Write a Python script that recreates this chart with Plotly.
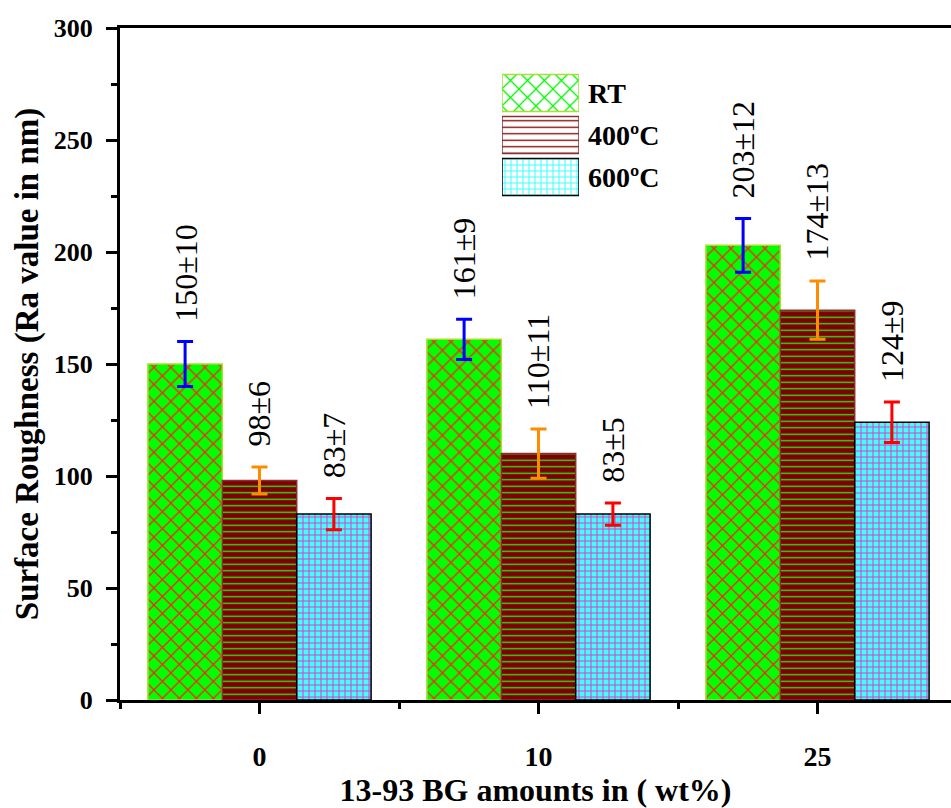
import plotly.graph_objects as go

# ---- data ----
categories = ["0", "10", "25"]
series_names = ["RT", "400ºC", "600ºC"]
rt_values = [150, 161, 203]
rt_errors = [10, 9, 12]
t400_values = [98, 110, 174]
t400_errors = [6, 11, 13]
t600_values = [83, 83, 124]
t600_errors = [7, 5, 9]
y_tick_values = [0, 50, 100, 150, 200, 250, 300]

values = [rt_values, t400_values, t600_values]
errors = [rt_errors, t400_errors, t600_errors]

# ---- styles ----
FONT = "Times New Roman, Liberation Serif, serif"
fill_colors = ["#00ff00", "#800000", "#40ffff"]
pattern_shapes = ["x", "-", "+"]
pattern_fg = ["#ff2020", "#22ee22", "#e040c8"]
pattern_size = [12, 6.5, 6]
pattern_solid = [0.2, 0.2, 0.32]
outline_colors = ["#a8e02c", "#8b3030", "#000000"]
outline_widths = [1.5, 1.5, 1.5]
err_colors = ["#0000ff", "#ff8c00", "#ff0000"]
BARGAP = 0.2

xpos = list(range(len(categories)))

fig = go.Figure()
for i, name in enumerate(series_names):
    fig.add_trace(go.Bar(
        x=xpos, y=values[i], name=name, showlegend=False,
        marker=dict(color=fill_colors[i],
                    line=dict(color=outline_colors[i], width=outline_widths[i]),
                    pattern=dict(shape=pattern_shapes[i], fgcolor=pattern_fg[i],
                                 bgcolor=fill_colors[i], size=pattern_size[i],
                                 solidity=pattern_solid[i], fillmode="replace")),
        error_y=dict(type="data", array=errors[i], visible=True,
                     color=err_colors[i], thickness=3, width=8),
    ))

# value labels above error bars
n = len(series_names)
group_w = 1 - BARGAP
for i in range(n):
    off = (i - (n - 1) / 2) * group_w / n
    for j, xv in enumerate(xpos):
        fig.add_annotation(
            x=xv + off, y=values[i][j] + errors[i][j], xref="x", yref="y",
            text=f"{values[i][j]}±{errors[i][j]}", textangle=-90,
            showarrow=False, xanchor="center", yanchor="bottom", yshift=18,
            font=dict(family=FONT, size=32, color="black"))

# legend swatches drawn as a small pattern-bar panel
fig.add_trace(go.Bar(
    x=[1] * n, y=series_names, orientation="h", xaxis="x2", yaxis="y2",
    showlegend=False, width=0.88, hoverinfo="skip",
    marker=dict(color=fill_colors,
                line=dict(color=outline_colors, width=1.5),
                pattern=dict(shape=pattern_shapes, fgcolor=pattern_fg,
                             bgcolor=fill_colors, size=pattern_size,
                             solidity=pattern_solid, fillmode="replace")),
))

W, H = 951, 808
L, R, T, B = 120, 0, 28, 108
pw, ph = W - L - R, H - T - B

def px_x(p):
    return (p - L) / pw

def px_y(p):
    return (H - B - p) / ph

fig.update_layout(
    width=W, height=H,
    margin=dict(l=L, r=R, t=T, b=B),
    paper_bgcolor="white", plot_bgcolor="white",
    barmode="group", bargap=BARGAP, bargroupgap=0,
    font=dict(family=FONT, color="black"),
    xaxis=dict(
        range=[-0.5, -0.5 + pw / 279.0],
        tickmode="array", tickvals=xpos, ticktext=categories,
        ticks="outside", ticklen=11, tickwidth=3, tickcolor="black",
        minor=dict(tickmode="linear", tick0=0.5, dtick=1, ticks="outside",
                   ticklen=6, tickwidth=3, tickcolor="black"),
        showline=True, linecolor="black", linewidth=3, mirror=True,
        showgrid=False, zeroline=False, ticklabelstandoff=18,
        tickfont=dict(family=FONT, size=28, color="black", weight="bold"),
        title=dict(text="13-93 BG amounts in ( wt%)", standoff=12,
                   font=dict(family=FONT, size=32, color="black", weight="bold")),
    ),
    yaxis=dict(
        range=[0, 300], tickmode="array", tickvals=y_tick_values,
        ticks="outside", ticklen=11, tickwidth=3, tickcolor="black",
        minor=dict(tickmode="linear", tick0=25, dtick=50, ticks="outside",
                   ticklen=6, tickwidth=3, tickcolor="black"),
        showline=True, linecolor="black", linewidth=3,
        showgrid=False, zeroline=False, ticklabelstandoff=8,
        tickfont=dict(family=FONT, size=26, color="black", weight="bold"),
        title=dict(text="Surface Roughness (Ra value in nm)", standoff=6,
                   font=dict(family=FONT, size=33, color="black", weight="bold")),
    ),
    xaxis2=dict(domain=[px_x(502), px_x(579)], range=[0, 1], anchor="y2",
                visible=False, fixedrange=True),
    yaxis2=dict(domain=[px_y(198), px_y(72)], anchor="x2", side="right",
                autorange="reversed", type="category",
                showline=False, showgrid=False, zeroline=False, ticks="",
                ticklabelstandoff=8,
                tickfont=dict(family=FONT, size=28, color="black", weight="bold")),
)

fig.write_html("out.html")
